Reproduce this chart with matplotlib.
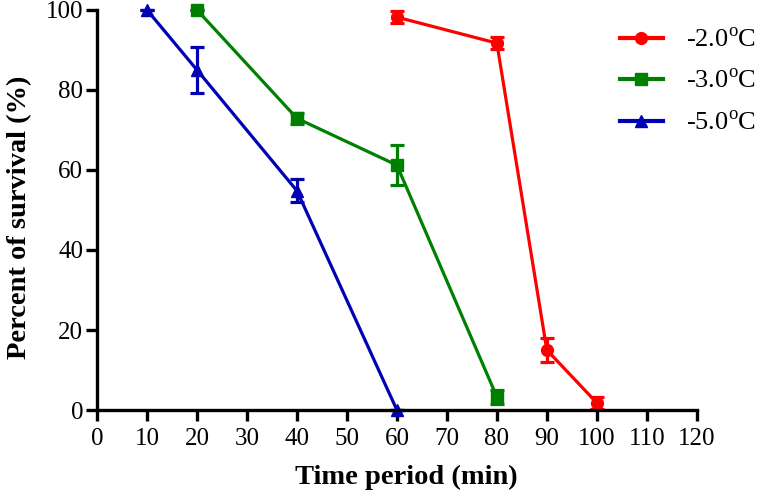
import numpy as np
import matplotlib
matplotlib.use('Agg')
import matplotlib.pyplot as plt
from matplotlib.lines import Line2D

plt.rcParams['font.family'] = ['Liberation Serif', 'DejaVu Serif']
plt.rcParams['mathtext.fontset'] = 'custom'
plt.rcParams['mathtext.rm'] = 'Liberation Serif'

# ---------- data ----------
x_m2 = [60, 80, 90, 100]
y_m2 = [98.2, 91.7, 15.0, 1.8]
e_m2 = [1.5, 1.5, 3.0, 1.5]

x_m3 = [20, 40, 60, 80]
y_m3 = [100.0, 72.9, 61.2, 3.3]
e_m3 = [0.0, 1.3, 5.0, 1.8]

x_m5 = [10, 20, 40, 60]
y_m5 = [100.0, 85.0, 54.8, 0.0]
e_m5 = [0.0, 5.8, 2.9, 0.0]

labels = ['-2.0$^{\\mathrm{o}}$C', '-3.0$^{\\mathrm{o}}$C', '-5.0$^{\\mathrm{o}}$C']

fig = plt.figure(figsize=(7.64, 4.97), dpi=100)
ax = fig.add_axes([0.127, 0.175, 0.785, 0.805])

series = [
    (x_m2, y_m2, e_m2, '#ff0000', 'o'),
    (x_m3, y_m3, e_m3, '#008000', 's'),
    (x_m5, y_m5, e_m5, '#0000b4', '^'),
]
handles = []
for xs, ys, es, c, m in series:
    ax.errorbar(xs, ys, yerr=es, color=c, marker=m, markersize=8.5, linewidth=2.3,
                elinewidth=2.3, capsize=5, capthick=2.3, clip_on=False)
    handles.append(Line2D([], [], color=c, marker=m, markersize=8.5, linewidth=3))

ax.set_xlim(0, 120)
ax.set_ylim(0, 100)
ax.set_xticks(np.arange(0, 121, 10))
ax.set_yticks(np.arange(0, 101, 20))
for s in ['top', 'right']:
    ax.spines[s].set_visible(False)
for s in ['left', 'bottom']:
    ax.spines[s].set_linewidth(2.4)
ax.tick_params(direction='out', length=8, width=2.4, labelsize=18)
ax.tick_params(axis='x', pad=5)
ax.tick_params(axis='y', pad=2)

ax.set_xlabel('Time period (min)', fontsize=20.5, fontweight='bold')
ax.set_ylabel('Percent of survival (%)', fontsize=20.5, fontweight='bold')
ax.xaxis.set_label_coords(0.515, -0.1375)
ax.yaxis.set_label_coords(-0.108, 0.4825)

ax.legend(handles, labels, loc='upper left', bbox_to_anchor=(0.812, 0.943),
          bbox_transform=fig.transFigure, frameon=False, fontsize=19,
          handlelength=1.6, handletextpad=0.9, borderpad=0, borderaxespad=0,
          labelspacing=0.65)

fig.savefig('out.png', dpi=100)
